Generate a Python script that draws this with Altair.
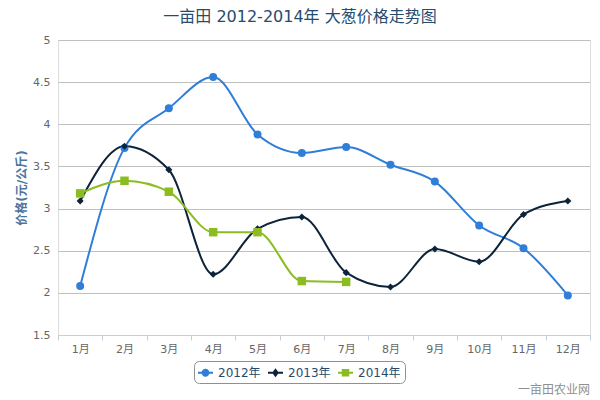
import altair as alt
import pandas as pd

months = ["1月", "2月", "3月", "4月", "5月", "6月", "7月", "8月", "9月", "10月", "11月", "12月"]
series_names = ["2012年", "2013年", "2014年"]
s2012 = [2.08, 3.72, 4.19, 4.56, 3.88, 3.66, 3.73, 3.52, 3.32, 2.80, 2.53, 1.97]
s2013 = [3.09, 3.74, 3.46, 2.22, 2.76, 2.90, 2.24, 2.07, 2.52, 2.37, 2.93, 3.09]
s2014 = [3.18, 3.33, 3.20, 2.72, 2.72, 2.14, 2.13]
colors = ["#2f7ed8", "#0d233a", "#8bbc21"]
title_text = "一亩田 2012-2014年 大葱价格走势图"
y_title = "价格(元/公斤)"
credit = "一亩田农业网"

rows = []
for name, vals in zip(series_names, [s2012, s2013, s2014]):
    for m, v in zip(months, vals):
        rows.append({"month": m, "price": v, "series": name})
df = pd.DataFrame(rows)

FONT = "DejaVu Sans, Noto Sans CJK SC"

x_enc = alt.X(
    "month:N", sort=months,
    scale=alt.Scale(type="band", paddingInner=0, paddingOuter=0),
    axis=alt.Axis(title=None, labelAngle=0, tickBand="extent", domainColor="#C0D0E0",
                  tickColor="#C0D0E0", tickSize=5, labelColor="#666666", labelFontSize=11,
                  labelFont=FONT, labelPadding=3, grid=False),
)
y_enc = alt.Y(
    "price:Q",
    scale=alt.Scale(domain=[1.5, 5], nice=False, zero=False),
    axis=alt.Axis(title=y_title, values=[1.5, 2, 2.5, 3, 3.5, 4, 4.5, 5], format="~g",
                  domain=False, ticks=False, labelColor="#666666", labelFontSize=11,
                  labelFont=FONT, labelPadding=8, gridColor="#C0C0C0", gridWidth=1,
                  titleColor="#4d759e", titleFontSize=12, titleFont=FONT,
                  titleFontWeight="bold", titlePadding=4),
)
# color scale domain comes from the data (sorted ascending, same order as series_names)
color_nolegend = alt.Color("series:N", sort="ascending", scale=alt.Scale(range=colors), legend=None)

base = alt.Chart(df)
lines = base.mark_line(interpolate="monotone", strokeWidth=2).encode(
    x=x_enc, y=y_enc, color=color_nolegend, detail="series:N")

pts2012 = base.transform_filter(alt.datum.series == "2012年").mark_point(
    shape="circle", filled=True, size=64, opacity=1).encode(x=x_enc, y=y_enc, color=color_nolegend)
pts2013 = base.transform_filter(alt.datum.series == "2013年").mark_point(
    shape="diamond", filled=True, size=50, opacity=1).encode(x=x_enc, y=y_enc, color=color_nolegend)
pts2014 = base.transform_filter(alt.datum.series == "2014年").mark_point(
    shape="square", filled=True, size=72, opacity=1).encode(x=x_enc, y=y_enc, color=color_nolegend)

legend_shapes = [
    "M-1,-0.13H1V0.13H-1Z M-0.53,0A0.53,0.53 0 1,1 0.53,0A0.53,0.53 0 1,1 -0.53,0Z",
    "M-1,-0.13H1V0.13H-1Z M0,-0.6L0.45,0L0,0.6L-0.45,0Z",
    "M-1,-0.13H1V0.13H-1Z M-0.5,-0.5H0.5V0.5H-0.5Z",
]
leg = alt.Legend(title=None, orient="none", legendX=136, legendY=321, direction="horizontal",
                 columns=3, strokeColor="#909090", cornerRadius=5, padding=4,
                 labelColor="#274b6d", labelFontSize=12, labelFont=FONT, symbolSize=225,
                 symbolOpacity=1, symbolStrokeWidth=0, columnPadding=7, labelOffset=5)
legend_layer = base.transform_filter("false").mark_point(filled=True, opacity=1).encode(
    x=x_enc, y=y_enc,
    fill=alt.Fill("series:N", scale=alt.Scale(domain=series_names, range=colors), legend=leg),
    shape=alt.Shape("series:N", scale=alt.Scale(domain=series_names, range=legend_shapes), legend=leg),
)

credit_layer = alt.Chart(pd.DataFrame({"t": [credit]})).mark_text(
    align="right", baseline="middle", fontSize=12, color="#909090", font=FONT
).encode(text="t:N", x=alt.value(532), y=alt.value(350))

chart = alt.layer(lines, pts2012, pts2013, pts2014, legend_layer, credit_layer).properties(
    width=532, height=295,
    title=alt.TitleParams(title_text, anchor="middle", fontSize=16, color="#274b6d",
                          font=FONT, fontWeight="normal", offset=9, dx=-24),
    autosize="none",
    padding={"left": 58, "top": 40, "right": 10, "bottom": 65},
).configure_view(stroke=None).configure(background="white")

chart.save("out.html", embed_options={"renderer": "svg", "actions": False})
